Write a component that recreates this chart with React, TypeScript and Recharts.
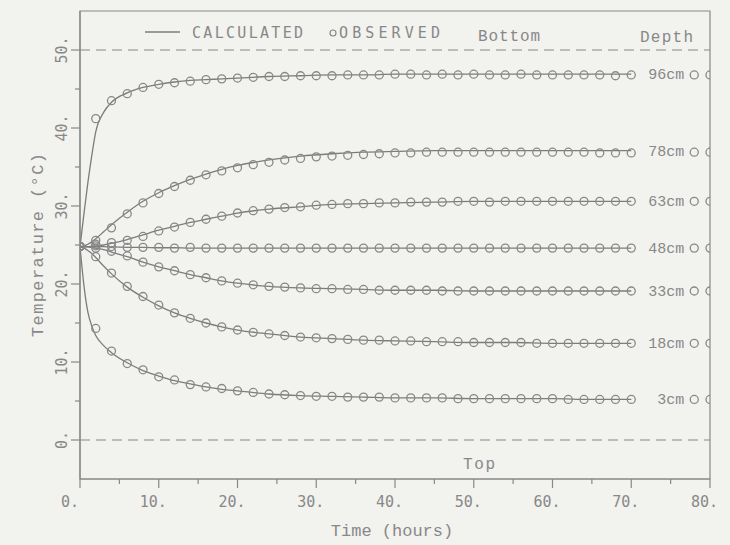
import React from "react";
import {
  ComposedChart,
  Line,
  Scatter,
  XAxis,
  YAxis,
  ReferenceLine,
  ReferenceArea,
} from "recharts";

// calculated curves (hours)
const calcHours = [0, 0.5, 1, 1.5, 2, 3, 4, 6, 8, 10, 12, 14, 16, 18, 20, 24, 28, 32, 36, 40, 45, 50, 55, 60, 65, 70];
const calc96 = [24.8, 29, 33, 36.5, 39.5, 42, 43.3, 44.5, 45.2, 45.6, 45.9, 46.1, 46.2, 46.3, 46.4, 46.6, 46.7, 46.8, 46.8, 46.9, 46.9, 46.9, 46.9, 46.9, 46.9, 46.9];
const calc78 = [24.8, 24.9, 25.1, 25.4, 25.8, 26.7, 27.6, 29.2, 30.6, 31.7, 32.6, 33.4, 34.1, 34.7, 35.2, 35.9, 36.4, 36.7, 36.9, 37.0, 37.1, 37.1, 37.1, 37.1, 37.1, 37.1];
const calc63 = [24.8, 24.8, 24.8, 24.85, 24.9, 25.0, 25.2, 25.7, 26.3, 26.9, 27.4, 27.9, 28.3, 28.7, 29.1, 29.6, 29.9, 30.2, 30.3, 30.4, 30.5, 30.6, 30.6, 30.6, 30.6, 30.6];
const calc48 = [24.8, 24.8, 24.8, 24.8, 24.8, 24.8, 24.75, 24.7, 24.7, 24.65, 24.65, 24.6, 24.6, 24.6, 24.6, 24.6, 24.6, 24.6, 24.6, 24.6, 24.6, 24.6, 24.6, 24.6, 24.6, 24.6];
const calc33 = [24.8, 24.8, 24.75, 24.7, 24.6, 24.4, 24.1, 23.5, 22.8, 22.2, 21.7, 21.2, 20.8, 20.4, 20.1, 19.7, 19.5, 19.4, 19.3, 19.2, 19.2, 19.1, 19.1, 19.1, 19.1, 19.1];
const calc18 = [24.8, 24.6, 24.3, 23.9, 23.4, 22.3, 21.3, 19.6, 18.3, 17.2, 16.3, 15.6, 15.0, 14.5, 14.1, 13.6, 13.2, 13.0, 12.8, 12.7, 12.6, 12.5, 12.5, 12.4, 12.4, 12.4];
const calc3 = [24.8, 19.8, 16.4, 14.6, 13.4, 12.1, 11.2, 9.9, 8.9, 8.2, 7.6, 7.2, 6.8, 6.5, 6.3, 5.9, 5.7, 5.6, 5.5, 5.4, 5.4, 5.3, 5.3, 5.3, 5.2, 5.2];

// observed points, plus the two marks after each depth label
const obsHours = [0, 2, 4, 6, 8, 10, 12, 14, 16, 18, 20, 22, 24, 26, 28, 30, 32, 34, 36, 38, 40, 42, 44, 46, 48, 50, 52, 54, 56, 58, 60, 62, 64, 66, 68, 70, 78, 80];
const obs96 = [24.8, 41.2, 43.5, 44.4, 45.2, 45.6, 45.8, 46.0, 46.2, 46.3, 46.4, 46.5, 46.6, 46.6, 46.7, 46.7, 46.7, 46.8, 46.8, 46.8, 46.9, 46.9, 46.8, 46.9, 46.8, 46.9, 46.8, 46.8, 46.9, 46.8, 46.8, 46.8, 46.8, 46.8, 46.7, 46.8, 46.8, 46.8];
const obs78 = [24.8, 25.6, 27.2, 29.0, 30.4, 31.6, 32.5, 33.3, 34.0, 34.5, 34.9, 35.3, 35.6, 35.9, 36.1, 36.3, 36.4, 36.5, 36.6, 36.7, 36.8, 36.8, 36.9, 36.9, 36.9, 36.9, 36.9, 36.9, 36.9, 36.9, 36.9, 36.9, 36.9, 36.8, 36.8, 36.8, 36.9, 36.9];
const obs63 = [24.8, 25.1, 25.3, 25.6, 26.1, 26.8, 27.3, 27.9, 28.3, 28.7, 29.1, 29.4, 29.6, 29.8, 29.9, 30.1, 30.2, 30.3, 30.3, 30.4, 30.4, 30.5, 30.5, 30.5, 30.6, 30.6, 30.5, 30.6, 30.6, 30.6, 30.6, 30.6, 30.6, 30.6, 30.6, 30.6, 30.6, 30.6];
const obs48 = [24.8, 24.9, 24.8, 24.7, 24.7, 24.7, 24.6, 24.7, 24.6, 24.6, 24.6, 24.6, 24.6, 24.6, 24.6, 24.6, 24.6, 24.6, 24.6, 24.6, 24.6, 24.6, 24.6, 24.6, 24.6, 24.6, 24.6, 24.6, 24.6, 24.6, 24.6, 24.6, 24.6, 24.6, 24.6, 24.6, 24.6, 24.6];
const obs33 = [24.8, 24.6, 24.2, 23.6, 22.8, 22.2, 21.7, 21.2, 20.8, 20.4, 20.1, 19.9, 19.7, 19.6, 19.5, 19.4, 19.4, 19.3, 19.3, 19.2, 19.2, 19.2, 19.2, 19.1, 19.1, 19.1, 19.1, 19.1, 19.1, 19.1, 19.1, 19.1, 19.1, 19.1, 19.1, 19.1, 19.1, 19.1];
const obs18 = [24.8, 23.5, 21.4, 19.7, 18.4, 17.3, 16.3, 15.6, 15.0, 14.5, 14.1, 13.8, 13.6, 13.4, 13.2, 13.1, 13.0, 12.9, 12.8, 12.8, 12.7, 12.7, 12.6, 12.6, 12.6, 12.5, 12.5, 12.5, 12.5, 12.4, 12.4, 12.4, 12.4, 12.4, 12.4, 12.4, 12.4, 12.4];
const obs3 = [24.8, 14.3, 11.4, 9.8, 9.0, 8.1, 7.7, 7.1, 6.8, 6.6, 6.3, 6.1, 5.9, 5.8, 5.7, 5.6, 5.6, 5.5, 5.5, 5.5, 5.4, 5.4, 5.4, 5.4, 5.3, 5.3, 5.3, 5.3, 5.3, 5.3, 5.3, 5.2, 5.2, 5.2, 5.2, 5.2, 5.2, 5.2];

const depthNames = ["96cm", "78cm", "63cm", "48cm", "33cm", "18cm", "3cm"];
const calcSeries = [calc96, calc78, calc63, calc48, calc33, calc18, calc3];
const obsSeries = [obs96, obs78, obs63, obs48, obs33, obs18, obs3];

const xTicks = [0, 5, 10, 15, 20, 25, 30, 35, 40, 45, 50, 55, 60, 65, 70, 75, 80];
const yTicks = [0, 5, 10, 15, 20, 25, 30, 35, 40, 45, 50];

const BG = "#f2f2ef";
const INK = "#888";
const LINE = "#7c7c7c";
const MONO = "'DejaVu Sans Mono', monospace";
const TYPE = "'Liberation Mono', monospace";

const XTick = (props: any) => {
  const { x, y, payload } = props;
  const major = payload.value % 10 === 0;
  return (
    <g>
      <line x1={x} x2={x} y1={y} y2={y + (major ? 9 : 5)} stroke={INK} strokeWidth={1.2} />
      {major && (
        <text x={x - 19} y={y + 28} fill={INK} fontFamily={MONO} fontSize={15}>
          {`${payload.value}.`}
        </text>
      )}
    </g>
  );
};

const YTick = (props: any) => {
  const { x, y, payload } = props;
  const major = payload.value % 10 === 0;
  return (
    <g>
      <line x1={x - (major ? 9 : 5)} x2={x} y1={y} y2={y} stroke={INK} strokeWidth={1.2} />
      {major && (
        <text
          x={x - 13}
          y={y}
          transform={`rotate(-90, ${x - 13}, ${y})`}
          textAnchor="middle"
          fill={INK}
          fontFamily={MONO}
          fontSize={15}
        >
          {`${payload.value}.`}
        </text>
      )}
    </g>
  );
};

const Ring = (p: any) => (
  <circle cx={p.cx} cy={p.cy} r={4} fill="none" stroke={INK} strokeWidth={1.3} />
);

const depthLabel = (name: string, last: number) => (p: any) =>
  p.index === last ? (
    <text x={p.x + 53} y={p.y + 5} textAnchor="end" fill={INK} fontFamily={TYPE} fontSize={15}>
      {name}
    </text>
  ) : (
    <g />
  );

export default function App() {
  return (
    <div style={{ position: "absolute", left: 0, top: 0, width: 730, height: 545, background: BG }}>
      <ComposedChart width={730} height={545} margin={{ top: 11, right: 20, bottom: 16, left: 0 }}>
        <XAxis
          type="number"
          dataKey="t"
          domain={[0, 80]}
          ticks={xTicks}
          allowDataOverflow
          height={50}
          tickSize={0}
          tickMargin={0}
          tick={<XTick />}
          axisLine={{ stroke: INK, strokeWidth: 1.2 }}
        />
        <YAxis
          type="number"
          domain={[-5, 55]}
          ticks={yTicks}
          allowDataOverflow
          width={80}
          tickSize={0}
          tickMargin={0}
          tick={<YTick />}
          axisLine={{ stroke: INK, strokeWidth: 1.2 }}
        />
        <ReferenceArea x1={0} x2={80} y1={-5} y2={55} fill="none" stroke={INK} strokeWidth={1.2} />
        <ReferenceLine y={50} stroke={INK} strokeWidth={1.2} strokeDasharray="10 6" />
        <ReferenceLine y={0} stroke={INK} strokeWidth={1.2} strokeDasharray="10 6" />
        {calcSeries.map((vals, i) => (
          <Line
            key={`c${i}`}
            data={calcHours.map((t, k) => ({ t, v: vals[k] }))}
            dataKey="v"
            type="monotone"
            stroke={LINE}
            strokeWidth={1.3}
            dot={false}
            isAnimationActive={false}
            label={depthLabel(depthNames[i], calcHours.length - 1)}
          />
        ))}
        {obsSeries.map((vals, i) => (
          <Scatter
            key={`o${i}`}
            data={obsHours.map((t, k) => ({ t, v: vals[k] }))}
            dataKey="v"
            shape={Ring}
            isAnimationActive={false}
          />
        ))}
      </ComposedChart>
      <svg
        width={730}
        height={545}
        style={{ position: "absolute", left: 0, top: 0, pointerEvents: "none" }}
      >
        <line x1={145} x2={180} y1={32} y2={32} stroke={LINE} strokeWidth={1.3} />
        <text x={192} y={38} fill={INK} fontFamily={MONO} fontSize={15} textLength={111} lengthAdjust="spacing">
          CALCULATED
        </text>
        <circle cx={333} cy={33} r={3} fill="none" stroke={INK} strokeWidth={1.2} />
        <text x={339} y={38} fill={INK} fontFamily={MONO} fontSize={15} textLength={101} lengthAdjust="spacing">
          OBSERVED
        </text>
        <text x={478} y={41} fill={INK} fontFamily={TYPE} fontSize={16} textLength={62} lengthAdjust="spacing">
          Bottom
        </text>
        <text x={640} y={42} fill={INK} fontFamily={TYPE} fontSize={16} textLength={53} lengthAdjust="spacing">
          Depth
        </text>
        <text x={463} y={469} fill={INK} fontFamily={TYPE} fontSize={16} textLength={32} lengthAdjust="spacing">
          Top
        </text>
        <text x={392} y={536} textAnchor="middle" fill={INK} fontFamily={TYPE} fontSize={17}>
          Time (hours)
        </text>
        <text
          x={43}
          y={245}
          transform="rotate(-90, 43, 245)"
          textAnchor="middle"
          fill={INK}
          fontFamily={TYPE}
          fontSize={17}
          textLength={184}
          lengthAdjust="spacing"
        >
          Temperature (°C)
        </text>
      </svg>
    </div>
  );
}
